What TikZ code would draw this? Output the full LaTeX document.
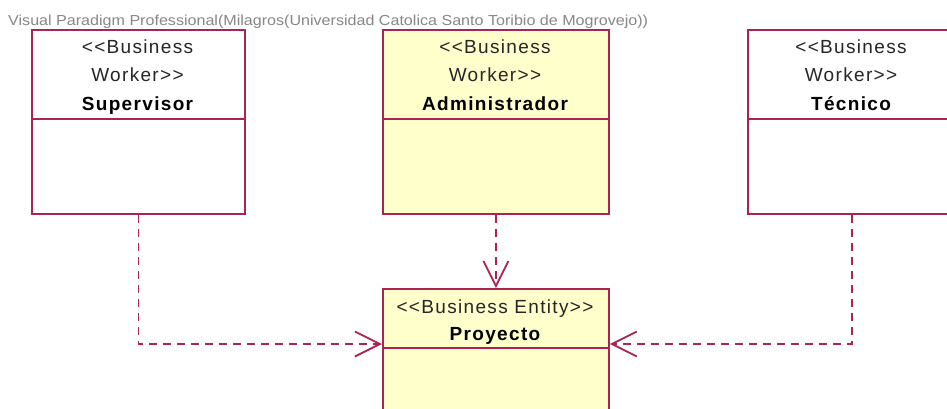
\documentclass[tikz,border=0pt]{standalone}
\usepackage{fontspec}
\setmainfont{Liberation Sans}
\newfontfamily\vpfont[LetterSpace=7]{Liberation Sans}
\usetikzlibrary{arrows.meta}
\definecolor{vpline}{RGB}{172,34,82}
\definecolor{vpfill}{RGB}{255,255,204}
\definecolor{wmgray}{RGB}{135,135,135}
\begin{document}
\begin{tikzpicture}[x=1pt,y=-1pt,
  classbox/.style={draw=vpline, line width=1.8pt, rectangle, inner sep=0pt, anchor=north west},
  stereo/.style={font=\vpfont\fontsize{19}{19}\selectfont, anchor=base, inner sep=0pt, text=black!85},
  cname/.style={font=\vpfont\bfseries\fontsize{19}{19}\selectfont, anchor=base, inner sep=0pt, text=black},
  divider/.style={draw=vpline, line width=1.8pt},
  dep/.style={draw=vpline, line width=1.8pt, dash pattern=on 8pt off 6pt,
    -{Straight Barb[length=25pt,width=25pt,line width=1.8pt]}}]
\useasboundingbox (0,0) rectangle (947,408);
\clip (0,0) rectangle (947,408);
\fill[white] (0,0) rectangle (947,408);

% watermark
\node[anchor=base west, inner sep=0pt, text=wmgray] (wm) at (8,25)
  {\resizebox{640pt}{10.5pt}{Visual Paradigm Professional(Milagros(Universidad Catolica Santo Toribio de Mogrovejo))}};

% boxes
\node[classbox, minimum width=213pt, minimum height=184pt] (sup) at (31,29) {};
\node[classbox, fill=vpfill, minimum width=226pt, minimum height=184pt] (adm) at (382,29) {};
\node[classbox, minimum width=208pt, minimum height=184pt] (tec) at (747,29) {};
\node[classbox, fill=vpfill, minimum width=226pt, minimum height=184pt] (proy) at (382,288) {};

% dividers
\draw[divider] ([yshift=-90pt]sup.north west) -- ([yshift=-90pt]sup.north east);
\draw[divider] ([yshift=-90pt]adm.north west) -- ([yshift=-90pt]adm.north east);
\draw[divider] ([yshift=-90pt]tec.north west) -- ([yshift=-90pt]tec.north east);
\draw[divider] ([yshift=-60pt]proy.north west) -- ([yshift=-60pt]proy.north east);

% texts
\node[stereo] (sups1) at (137.5,53) {<<Business};
\node[stereo] (sups2) at (137.5,81) {Worker>>};
\node[cname]  (supn)  at (137.5,110) {Supervisor};

\node[stereo] (adms1) at (495,53) {<<Business};
\node[stereo] (adms2) at (495,81) {Worker>>};
\node[cname]  (admn)  at (495,110) {Administrador};

\node[stereo] (tecs1) at (851,53) {<<Business};
\node[stereo] (tecs2) at (851,81) {Worker>>};
\node[cname]  (tecn)  at (851,110) {Técnico};

\node[stereo] (proys) at (495,313) {<<Business Entity>>};
\node[cname]  (proyn) at (495,340) {Proyecto};

% dependencies
\coordinate (pL) at ([yshift=-56pt]proy.north west);
\coordinate (pR) at ([yshift=-56pt]proy.north east);
\draw[dep] (sup.south) |- (pL);
\draw[dep] (adm.south) -- (proy.north);
\draw[dep] (tec.south) |- (pR);
\end{tikzpicture}
\end{document}
